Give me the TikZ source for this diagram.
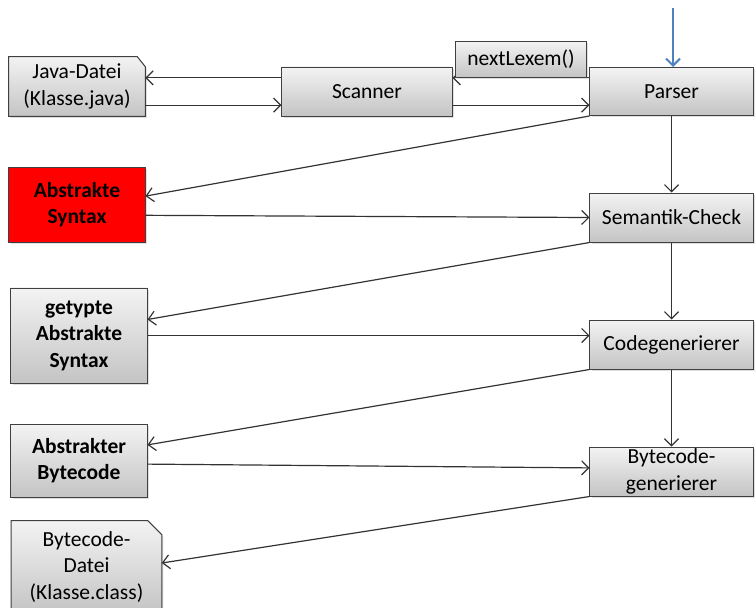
\documentclass[tikz,border=0pt]{standalone}
\usepackage{fontspec}
\setmainfont{Carlito}
\usetikzlibrary{positioning, calc, arrows.meta, shadows, backgrounds}
\definecolor{boxline}{RGB}{64,64,64}
\definecolor{boxtop}{RGB}{243,243,243}
\definecolor{boxbottom}{RGB}{196,196,196}
\definecolor{phasered}{RGB}{255,0,0}
\definecolor{startblue}{RGB}{79,129,189}

\begin{document}
\begin{tikzpicture}[
        x=0.025cm, y=-0.025cm,
        box/.style={rectangle, align=center, inner sep=4pt,
                    font=\fontsize{15.3}{18.8}\selectfont},
        boxrand/.style={draw=boxline, line width=0.7pt,
                        drop shadow={opacity=0.25, shadow xshift=1.2pt, shadow yshift=-1.2pt}},
        phase/.style={box, boxrand, top color=boxtop, bottom color=boxbottom,
                      minimum width=4.075cm, minimum height=1.225cm},
        data/.style={phase, minimum width=3.4cm, font=\fontsize{15.3}{18.8}\selectfont\bfseries},
        datared/.style={box, boxrand, fill=phasered, minimum width=3.4cm,
                        font=\fontsize{15.3}{18.8}\selectfont\bfseries},
        datei/.style={box, minimum width=3.4cm},
        dateirand/.style={boxrand, top color=boxtop, bottom color=boxbottom},
        pfeil/.style={-{Straight Barb[length=5pt,width=10pt]}, line width=0.85pt, black!80},
        startpfeil/.style={-{Straight Barb[length=5pt,width=10pt]}, line width=1.4pt, startblue},
    ]
    \useasboundingbox (0,0) rectangle (755,607);

    % ===== Scanner / Parser =====
    \node[datei, minimum height=1.475cm] (javadatei) at (77,86.5) {Java-Datei\\(Klasse.java)};
    \node[phase, minimum width=4.25cm] (scanner) at (367,91.5) {Scanner};
    \node[phase, minimum height=1.2cm] (parser) at (671.5,91.5) {Parser};

    \coordinate (sc1) at ([yshift=0.34cm]scanner.west);
    \coordinate (sc2) at ([yshift=-0.34cm]scanner.west);
    \coordinate (sc3) at ([yshift=0.34cm]scanner.east);
    \coordinate (sc4) at ([yshift=-0.34cm]scanner.east);
    \draw[pfeil] (sc1) -- (sc1 -| javadatei.east);
    \draw[pfeil] (sc2 -| javadatei.east) -- (sc2);
    \draw[pfeil] (sc3 -| parser.west) -- (sc3);
    \draw[pfeil] (sc4) -- (sc4 -| parser.west);

    \node[phase, minimum width=3.275cm, minimum height=0.9cm] (nextlexem) at (521,59) {nextLexem()};

    % Startpfeil
    \coordinate (start) at (673,8);
    \draw[startpfeil] (start) -- (start |- parser.north);

    % ===== Semantik-Check =====
    \node[datared, minimum height=1.875cm] (abssyn) at (77,204.5) {Abstrakte\\Syntax};
    \node[phase] (semantik) at (671.5,217.5) {Semantik-Check};

    \draw[pfeil] (parser.south west) -- ([yshift=0.21cm]abssyn.east);
    \draw[pfeil] ([yshift=-0.27cm]abssyn.east) -- (semantik.west);
    \draw[pfeil] (parser.south) -- (semantik.north);

    % ===== Codegenerierer =====
    \node[data, minimum height=2.375cm] (getypt) at (79,335.5) {getypte\\Abstrakte\\Syntax};
    \node[phase] (codegen) at (671.5,344.5) {Codegenerierer};

    \draw[pfeil] (semantik.south west) -- ([yshift=0.4cm]getypt.east);
    \draw[pfeil] (getypt.east) -- (getypt.east -| codegen.west);
    \draw[pfeil] (semantik.south) -- (codegen.north);

    % ===== Bytecodegenerierer =====
    \node[data, minimum height=1.825cm] (absbyte) at (79,460.5) {Abstrakter\\Bytecode};
    \node[phase, inner ysep=0pt] (bytegen) at (671.5,471.5) {Bytecode-\\generierer};

    \draw[pfeil] (codegen.south west) -- ([yshift=0.39cm]absbyte.east);
    \draw[pfeil] ([yshift=-0.09cm]absbyte.east) -- ([yshift=0.09cm]bytegen.west);
    \draw[pfeil] (codegen.south) -- (bytegen.north);

    \node[datei, minimum width=3.75cm, minimum height=2.3cm] (bytedatei) at (86.5,567)
        {Bytecode-\\Datei\\(Klasse.class)};
    \draw[pfeil] (bytegen.south west) -- ([yshift=0.1cm]bytedatei.east);

    % Dateien mit Eselsohr
    \begin{scope}[on background layer]
        \path[dateirand] (javadatei.south west) -- (javadatei.north west)
            -- ([xshift=-0.2cm]javadatei.north east) -- ([yshift=-0.25cm]javadatei.north east)
            -- (javadatei.south east) -- cycle;
        \path[dateirand] (bytedatei.south west) -- (bytedatei.north west)
            -- ([xshift=-0.35cm]bytedatei.north east) -- ([yshift=-0.35cm]bytedatei.north east)
            -- (bytedatei.south east) -- cycle;
    \end{scope}

\end{tikzpicture}
\end{document}
